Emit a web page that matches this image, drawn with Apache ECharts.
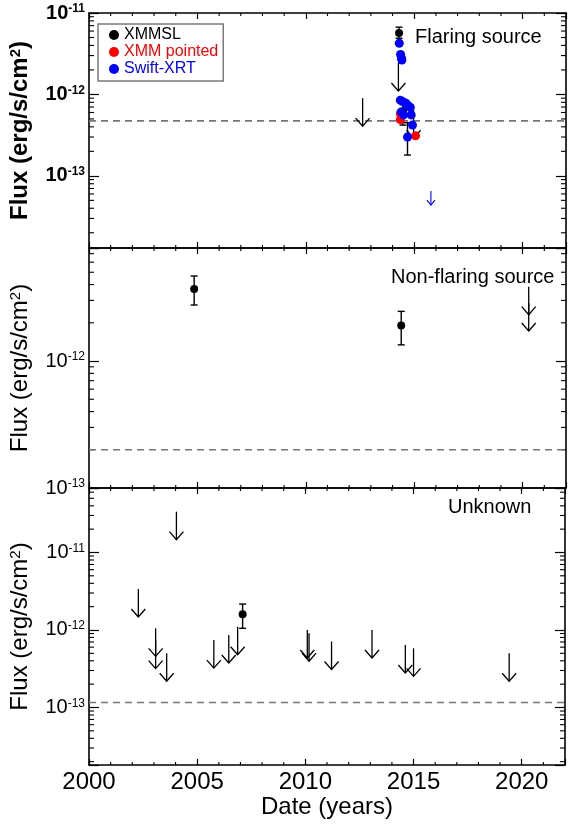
<!DOCTYPE html>
<html>
<head>
<meta charset="utf-8">
<script src="https://cdn.jsdelivr.net/npm/echarts@6/dist/echarts.min.js"></script>
<style>
  html, body { margin: 0; padding: 0; background: #fff; }
  #chart { width: 568px; height: 824px; }
</style>
</head>
<body>
<div id="chart"></div>
<script>
// ---------- data ----------
const yearMin = 2000;
const yearMax = 2022;
const yearMajorStep = 5;
const minorYears = [2001, 2002, 2003, 2004, 2006, 2007, 2008, 2009, 2011, 2012, 2013, 2014,
                    2016, 2017, 2018, 2019, 2021];

// flux range of each panel, erg/s/cm^2
const fluxRanges = [[1.3e-14, 1e-11], [1e-13, 7.76e-12], [1.81e-14, 6.79e-11]];
const panelTitles = ['Flaring source', 'Non-flaring source', 'Unknown'];
// survey sensitivity level (dashed line) per panel
const sensitivity = [4.74e-13, 2.0e-13, 1.16e-13];

// Flaring source: [year, flux, low, high]
const flareXmmsl = [[2014.30, 5.7e-12, 4.9e-12, 6.7e-12], [2014.48, 6.2e-13, 4.2e-13, 8.6e-13]];
// upper limits: [year, flux]
const flareXmmslLimits = [[2012.62, 9.0e-13], [2014.27, 2.43e-12], [2014.97, 6.4e-13]];
const flareXmmPointed = [[2014.36, 5.8e-13], [2014.36, 4.9e-13], [2015.06, 3.1e-13]];
const flareSwift = [[2014.31, 4.25e-12], [2014.37, 3.1e-12], [2014.41, 2.8e-12], [2014.43, 2.65e-12],
                    [2014.36, 8.5e-13], [2014.46, 8.2e-13], [2014.62, 7.8e-13], [2014.74, 7.2e-13],
                    [2014.82, 6.9e-13], [2014.40, 6.1e-13], [2014.51, 5.6e-13], [2014.86, 5.6e-13],
                    [2014.92, 4.2e-13], [2014.69, 3.0e-13]];
const flareSwiftErrors = [[2014.69, 3.0e-13, 1.8e-13, 4.5e-13]];
const flareSwiftLimits = [[2015.77, 6.5e-14]];

// Non-flaring source
const steadyXmmsl = [[2004.85, 3.69e-12, 2.76e-12, 4.67e-12], [2014.40, 1.9e-12, 1.34e-12, 2.46e-12]];
const steadyLimits = [[2020.28, 3.85e-12], [2020.28, 2.86e-12]];

// Unknown
const unknownXmmsl = [[2007.10, 1.6e-12, 1.05e-12, 2.16e-12]];
const unknownLimits = [[2004.04, 3.36e-11], [2002.28, 3.38e-12], [2003.08, 1.05e-12], [2003.08, 7.3e-13],
                       [2003.59, 5.0e-13], [2005.77, 7.4e-13], [2006.46, 8.6e-13], [2006.87, 1.1e-12],
                       [2010.09, 1.0e-12], [2010.17, 9.1e-13], [2011.21, 7.1e-13], [2013.08, 1.0e-12],
                       [2014.62, 6.4e-13], [2015.00, 5.8e-13], [2019.42, 5.0e-13]];

// ---------- styling ----------
const FONT = '"Liberation Sans", Arial, Helvetica, sans-serif';
const grids = [
  { left: 88, top: 13, width: 478, height: 235 },
  { left: 88, top: 248, width: 478, height: 240 },
  { left: 88, top: 488, width: 478, height: 277 }
];

// 2..9 x 10^n inside a flux range, for the small log ticks
function logMinorValues(range) {
  const out = [];
  const lo = Math.floor(Math.log10(range[0]));
  const hi = Math.ceil(Math.log10(range[1]));
  for (let e = lo; e <= hi; e++) {
    for (let m = 2; m <= 9; m++) {
      const v = m * Math.pow(10, e);
      if (v > range[0] && v < range[1]) out.push(v);
    }
  }
  return out;
}

function powerLabel(v) {
  const l = Math.log10(v);
  const e = Math.round(l);
  if (Math.abs(l - e) > 1e-6) return '';
  return '{b|10}{e|' + e + '}';
}

const xAxes = [];
const yAxes = [];
grids.forEach((g, i) => {
  const last = i === grids.length - 1;
  const frame = { show: true, onZero: false, lineStyle: { color: '#000', width: 1.6 } };
  const tick = { show: true, inside: true, length: 6, lineStyle: { color: '#000', width: 1.2 } };
  xAxes.push({
    type: 'value', gridIndex: i, position: 'bottom', min: yearMin, max: yearMax, interval: yearMajorStep,
    axisLine: frame, axisTick: tick, splitLine: { show: false },
    axisLabel: {
      show: last, margin: 5, color: '#000', fontFamily: FONT, fontSize: 24,
      formatter: v => (v % yearMajorStep === 0 ? String(v) : '')
    },
    name: last ? 'Date (years)' : '', nameLocation: 'middle', nameGap: 30,
    nameTextStyle: { color: '#000', fontFamily: FONT, fontSize: 24 }
  });
  xAxes.push({
    type: 'value', gridIndex: i, position: 'top', min: yearMin, max: yearMax, interval: yearMajorStep,
    axisLine: frame, axisTick: tick, splitLine: { show: false }, axisLabel: { show: false }
  });
  const bold = i === 0 ? 'bold' : 'normal';
  const ytick = { show: true, inside: true, length: 10, lineStyle: { color: '#000', width: 1.2 } };
  yAxes.push({
    type: 'log', logBase: 10, gridIndex: i, position: 'left', min: fluxRanges[i][0], max: fluxRanges[i][1],
    axisLine: frame, axisTick: ytick, splitLine: { show: false },
    axisLabel: {
      margin: 4, formatter: powerLabel, showMinLabel: true, showMaxLabel: true,
      rich: {
        b: { fontFamily: FONT, fontSize: 20, color: '#000', fontWeight: bold },
        e: { fontFamily: FONT, fontSize: 12, color: '#000', fontWeight: bold, verticalAlign: 'top', padding: [0, 0, 8, 0] }
      }
    },
    name: '{a|Flux (erg/s/cm}{s|2}{a|)}', nameLocation: 'middle', nameGap: 56,
    nameTextStyle: {
      rich: {
        a: { fontFamily: FONT, fontSize: 24, color: '#000', fontWeight: bold },
        s: { fontFamily: FONT, fontSize: 15, color: '#000', fontWeight: bold, verticalAlign: 'top', padding: [0, 0, 10, 0] }
      }
    }
  });
  yAxes.push({
    type: 'log', logBase: 10, gridIndex: i, position: 'right', min: fluxRanges[i][0], max: fluxRanges[i][1],
    axisLine: frame, axisTick: ytick, splitLine: { show: false }, axisLabel: { show: false }
  });
});

// minor ticks on all four sides of a panel
function minorTickSeries(i) {
  const data = [];
  minorYears.forEach(y => data.push([y, fluxRanges[i][0], 0]));
  logMinorValues(fluxRanges[i]).forEach(v => data.push([yearMin, v, 1]));
  return {
    type: 'custom', xAxisIndex: 2 * i, yAxisIndex: 2 * i, silent: true, z: 1,
    data: data,
    renderItem: (params, api) => {
      const cs = params.coordSys;
      const p = api.coord([api.value(0), api.value(1)]);
      const st = { stroke: '#000', lineWidth: 1.1 };
      if (api.value(2) === 0) {
        return { type: 'group', children: [
          { type: 'line', shape: { x1: p[0], y1: cs.y + cs.height, x2: p[0], y2: cs.y + cs.height - 3 }, style: st },
          { type: 'line', shape: { x1: p[0], y1: cs.y, x2: p[0], y2: cs.y + 3 }, style: st }
        ] };
      }
      return { type: 'group', children: [
        { type: 'line', shape: { x1: cs.x, y1: p[1], x2: cs.x + 5, y2: p[1] }, style: st },
        { type: 'line', shape: { x1: cs.x + cs.width, y1: p[1], x2: cs.x + cs.width - 5, y2: p[1] }, style: st }
      ] };
    }
  };
}

function limitSeries(i, data, color, len, headLen, headW, width) {
  return {
    type: 'custom', xAxisIndex: 2 * i, yAxisIndex: 2 * i, silent: true, z: 3,
    data: data, encode: { x: 0, y: 1 },
    renderItem: (params, api) => {
      const p = api.coord([api.value(0), api.value(1)]);
      const x = p[0], y0 = p[1], y1 = p[1] + len;
      const st = { stroke: color, lineWidth: width, fill: null };
      return { type: 'group', children: [
        { type: 'line', shape: { x1: x, y1: y0, x2: x, y2: y1 }, style: st },
        { type: 'polyline', shape: { points: [[x - headW, y1 - headLen], [x, y1], [x + headW, y1 - headLen]] }, style: st }
      ] };
    }
  };
}

function errorSeries(i, data) {
  return {
    type: 'custom', xAxisIndex: 2 * i, yAxisIndex: 2 * i, silent: true, z: 3,
    data: data, encode: { x: 0, y: 1 },
    renderItem: (params, api) => {
      const lo = api.coord([api.value(0), api.value(2)]);
      const hi = api.coord([api.value(0), api.value(3)]);
      const st = { stroke: '#000', lineWidth: 1.4 };
      const c = 3.5;
      return { type: 'group', children: [
        { type: 'line', shape: { x1: lo[0], y1: lo[1], x2: hi[0], y2: hi[1] }, style: st },
        { type: 'line', shape: { x1: lo[0] - c, y1: lo[1], x2: lo[0] + c, y2: lo[1] }, style: st },
        { type: 'line', shape: { x1: hi[0] - c, y1: hi[1], x2: hi[0] + c, y2: hi[1] }, style: st }
      ] };
    }
  };
}

function dots(i, name, data, color, size, z) {
  return {
    type: 'scatter', name: name, xAxisIndex: 2 * i, yAxisIndex: 2 * i, z: z,
    data: data.map(d => [d[0], d[1]]), symbol: 'circle', symbolSize: size,
    itemStyle: { color: color, opacity: 1 }, silent: true
  };
}

function levelLine(i) {
  return {
    type: 'line', xAxisIndex: 2 * i, yAxisIndex: 2 * i, silent: true, z: 2,
    data: [[yearMin, sensitivity[i]], [yearMax, sensitivity[i]]], symbol: 'none',
    lineStyle: { color: '#777', width: 1.6, type: [7, 5] }
  };
}

const series = [];
grids.forEach((g, i) => { series.push(minorTickSeries(i)); series.push(levelLine(i)); });

// flaring source
series.push(limitSeries(0, flareXmmslLimits, '#000', 28, 8, 7, 1.3));
series.push(limitSeries(0, flareSwiftLimits, '#0000ff', 14, 5, 4, 1.1));
series.push(errorSeries(0, flareXmmsl));
series.push(errorSeries(0, flareSwiftErrors));
series.push(dots(0, 'XMMSL', flareXmmsl, '#000', 8, 4));
series.push(dots(0, 'XMM pointed', flareXmmPointed, '#ff0000', 9, 5));
series.push(dots(0, 'Swift-XRT', flareSwift, '#0000ff', 9, 6));

// non-flaring source
series.push(errorSeries(1, steadyXmmsl));
series.push(dots(1, 'steady', steadyXmmsl, '#000', 8, 4));
series.push(limitSeries(1, steadyLimits, '#000', 28, 8, 7, 1.3));

// unknown
series.push(errorSeries(2, unknownXmmsl));
series.push(dots(2, 'unknown', unknownXmmsl, '#000', 8, 4));
series.push(limitSeries(2, unknownLimits, '#000', 28, 8, 7, 1.3));

const titlePos = [[415, 38], [391, 278], [448, 508]];
const graphics = panelTitles.map((t, i) => ({
  type: 'text', left: titlePos[i][0], top: titlePos[i][1] - 11, z: 10,
  style: { text: t, fontFamily: FONT, fontSize: 20, fill: '#000' }
}));

const chart = echarts.init(document.getElementById('chart'), null, { renderer: 'canvas' });
chart.setOption({
  animation: false,
  backgroundColor: '#fff',
  grid: grids,
  xAxis: xAxes,
  yAxis: yAxes,
  legend: {
    left: 98, top: 24, orient: 'vertical',
    padding: [3, 5, 4, 11], itemGap: 1, itemWidth: 10, itemHeight: 10,
    borderColor: '#7a7a7a', borderWidth: 1.5, backgroundColor: '#fff',
    icon: 'circle', selectedMode: false,
    textStyle: { fontFamily: FONT, fontSize: 16 },
    data: [
      { name: 'XMMSL', textStyle: { color: '#000' } },
      { name: 'XMM pointed', textStyle: { color: '#ff0000' } },
      { name: 'Swift-XRT', textStyle: { color: '#0000ff' } }
    ]
  },
  graphic: graphics,
  series: series
});
</script>
</body>
</html>
